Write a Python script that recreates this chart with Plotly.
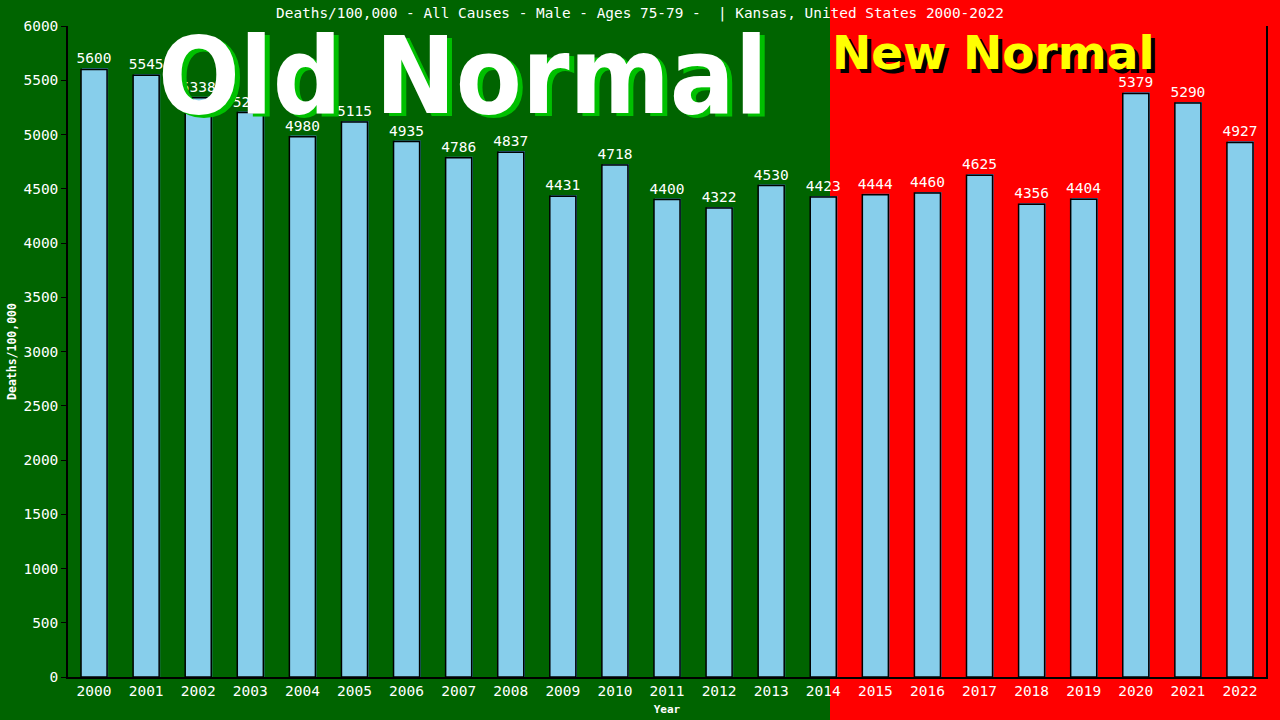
import plotly.graph_objects as go

# Datos
anios = ["2000", "2001", "2002", "2003", "2004", "2005", "2006", "2007", "2008", "2009", "2010", "2011",
         "2012", "2013", "2014", "2015", "2016", "2017", "2018", "2019", "2020", "2021", "2022"]
muertes = [5600, 5545, 5338, 5202, 4980, 5115, 4935, 4786, 4837, 4431, 4718, 4400,
           4322, 4530, 4423, 4444, 4460, 4625, 4356, 4404, 5379, 5290, 4927]
ticks_y = [0, 500, 1000, 1500, 2000, 2500, 3000, 3500, 4000, 4500, 5000, 5500, 6000]

TITULO = "Deaths/100,000 - All Causes - Male - Ages 75-79 -  | Kansas, United States 2000-2022"
VERDE = "#006400"
ROJO = "#ff0000"
MONO = "DejaVu Sans Mono"

# zona del plot en pixeles (para ubicar el fondo rojo y los rótulos)
IZQ, DER, ARR, ABA = 68, 14, 26, 43
ANCHO = 1280 - IZQ - DER
ALTO = 720 - ARR - ABA
X_ROJO = (830 - IZQ) / ANCHO

fig = go.Figure()

# sombra de las barras (un pixel arriba y a la derecha)
fig.add_trace(go.Bar(
    x=anios, y=[v + 10 for v in muertes],
    width=0.5, offset=-0.23,
    marker=dict(color="#3f86c0", line=dict(width=0)),
    hoverinfo="skip", showlegend=False,
))

fig.add_trace(go.Bar(
    x=anios, y=muertes,
    width=0.5, offset=-0.25,
    marker=dict(color="#87ceeb", line=dict(color="black", width=1.5)),
    text=[str(v) for v in muertes], textposition="outside", constraintext="none",
    textfont=dict(family=MONO, size=14.5, color="white"),
    cliponaxis=False, showlegend=False,
))

fig.update_layout(
    width=1280, height=720,
    barmode="overlay",
    paper_bgcolor=VERDE, plot_bgcolor="rgba(0,0,0,0)",
    margin=dict(l=IZQ, r=DER, t=ARR, b=ABA, autoexpand=False),
    title=dict(text=TITULO, x=0.5, xanchor="center", y=1 - 13 / 720, yanchor="middle",
               font=dict(family=MONO, size=14.4, color="white")),
    xaxis=dict(
        type="category", range=[-0.5, 22.5], automargin=False,
        showline=True, linecolor="black", linewidth=1.5,
        ticks="", showgrid=False,
        tickfont=dict(family=MONO, size=14.5, color="white"),
        title=dict(text="<b>Year</b>", font=dict(family=MONO, size=11, color="white"), standoff=7),
    ),
    yaxis=dict(
        range=[0, 6000], tickvals=ticks_y, automargin=False,
        showline=True, linecolor="black", linewidth=1.5, mirror=True,
        ticks="outside", ticklen=5, tickcolor="black", showgrid=False, zeroline=False,
        tickfont=dict(family=MONO, size=14.5, color="white"),
        title=dict(text="<b>Deaths/100,000</b>", font=dict(family=MONO, size=11.5, color="white"), standoff=4),
    ),
)

# fondo rojo cubriendo todo el alto a la derecha
fig.add_shape(type="rect", xref="paper", yref="paper", x0=X_ROJO, x1=1.05, y0=-0.1, y1=1.1,
              fillcolor=ROJO, line=dict(width=0), layer="below")

# rótulos grandes con sombra
for dx, dy, color in [(5, -3, "#00c000"), (0, 0, "white")]:
    fig.add_annotation(text="<b>Old Normal</b>", xref="paper", yref="paper",
                       x=(463 - IZQ) / ANCHO, y=(677 - 76) / ALTO, xanchor="center", yanchor="middle",
                       xshift=dx, yshift=dy, showarrow=False,
                       font=dict(family="DejaVu Sans Condensed, Liberation Sans", size=107, color=color))
for dx, dy, color in [(4, -4, "black"), (0, 0, "#ffff00")]:
    fig.add_annotation(text="<b>New Normal</b>", xref="paper", yref="paper",
                       x=X_ROJO, y=(677 - 52) / ALTO, xanchor="left", yanchor="middle",
                       xshift=dx, yshift=dy, showarrow=False,
                       font=dict(family="DejaVu Sans", size=47, color=color))

# sin margen del body para que la figura quede pegada a la esquina
fig.write_html("out.html", config={"displayModeBar": False},
               post_script="document.body.style.margin='0';")
